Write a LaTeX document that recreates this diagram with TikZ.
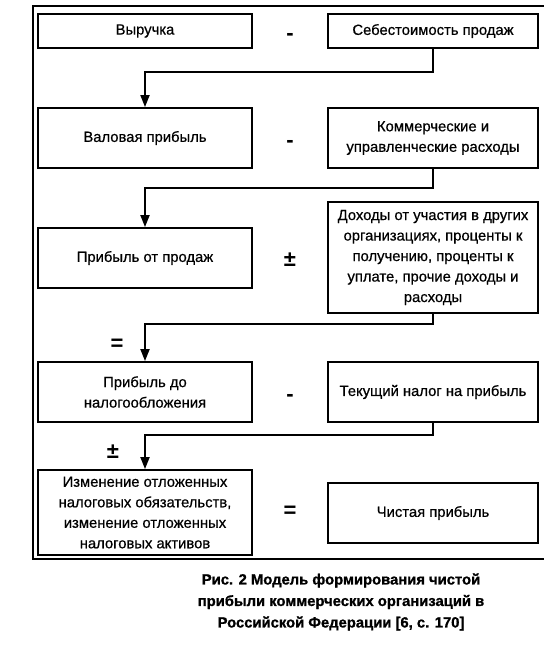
\documentclass[tikz,border=0pt]{standalone}
\usepackage{fontspec}
\setmainfont{Liberation Sans}
\usetikzlibrary{arrows.meta}
\begin{document}
\begin{tikzpicture}[x=1pt,y=-1pt,
  box/.style={draw,line width=1.8pt,align=center,inner sep=2pt,
    font=\fontsize{14.8}{20.5}\selectfont\addfontfeature{FakeBold=0.6}},
  op/.style={font=\bfseries\fontsize{22}{22}\selectfont,inner sep=0pt},
  dashop/.style={op,yshift=-6pt},
  link/.style={line width=1.8pt,-{Triangle[width=9pt,length=12pt]}}]
\useasboundingbox (0,0) rectangle (543,660);
\draw[line width=2.8pt] (33,6) rectangle (570,559);
% row 1
\node[box,minimum width=214,minimum height=34] (l1) at (145,31) {Выручка};
\node[box,minimum width=210,minimum height=34] (r1) at (433,31) {Себестоимость продаж};
\node[dashop] (o1) at (290,31) {-};
% row 2
\node[box,minimum width=214,minimum height=60] (l2) at (145,138) {Валовая прибыль};
\node[box,minimum width=210,minimum height=60] (r2) at (433,138) {Коммерческие и\\управленческие расходы};
\node[dashop] (o2) at (290,138) {-};
% row 3
\node[box,minimum width=214,minimum height=60] (l3) at (145,258) {Прибыль от продаж};
\node[box,minimum width=210,minimum height=111] (r3) at (433,257.5) {Доходы от участия в других\\организациях, проценты к\\получению, проценты к\\уплате, прочие доходы и\\расходы};
\node[op] (o3) at (290,260) {±};
% row 4
\node[box,minimum width=214,minimum height=60] (l4) at (145,392) {Прибыль до\\налогообложения};
\node[box,minimum width=210,minimum height=60] (r4) at (433,392) {Текущий налог на прибыль};
\node[dashop] (o4) at (290,392) {-};
% row 5
\node[box,minimum width=214,minimum height=85] (l5) at (145,512.5) {Изменение отложенных\\налоговых обязательств,\\изменение отложенных\\налоговых активов};
\node[box,minimum width=210,minimum height=60] (r5) at (433,513) {Чистая прибыль};
\node[op] (o5) at (290,512) {=};
% connectors
\draw[link] (r1.south) -- ++(0,23) -| (l2.north);
\draw[link] (r2.south) -- ++(0,19) -| (l3.north);
\draw[link] (r3.south) -- ++(0,10) -| (l4.north);
\draw[link] (r4.south) -- ++(0,12) -| (l5.north);
\node[op] (e3) at (117,345) {=};
\node[op] (e4) at (113,452) {±};
% caption
\node[font=\bfseries\fontsize{14.8}{21.5}\selectfont\addfontfeature{FakeBold=1},align=center] (cap) at (341,602)
  {Рис. 2 Модель формирования чистой\\прибыли коммерческих организаций в\\Российской Федерации [6, с. 170]};
\end{tikzpicture}
\end{document}
